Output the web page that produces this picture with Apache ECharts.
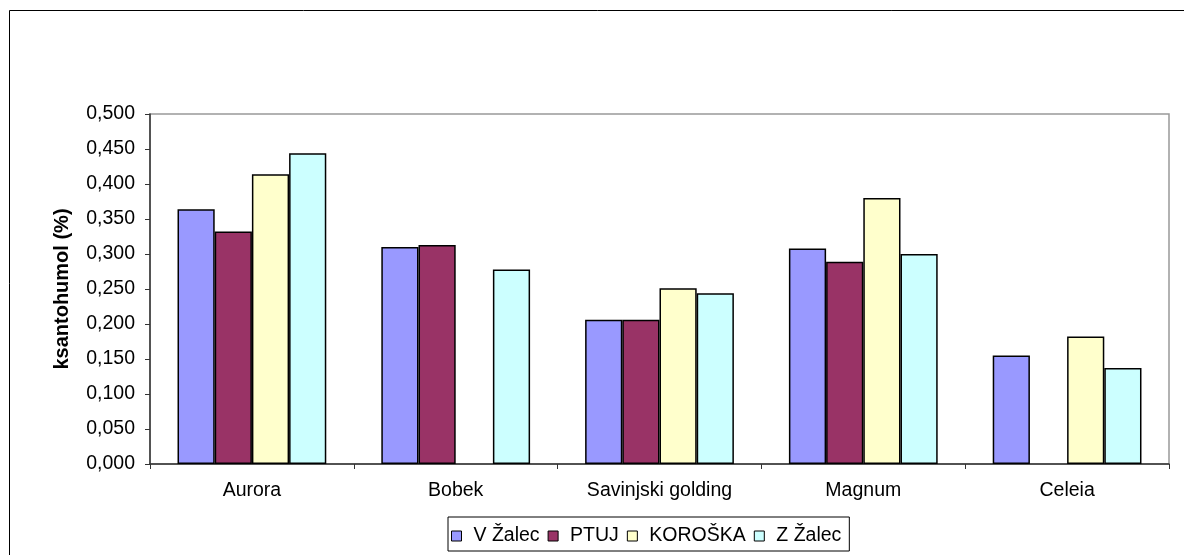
<!DOCTYPE html>
<html>
<head>
<meta charset="utf-8">
<script src="https://cdn.jsdelivr.net/npm/echarts@6/dist/echarts.min.js"></script>
<style>
html,body{margin:0;padding:0;background:#fff;}
#c{width:1184px;height:555px;}
</style>
</head>
<body>
<div id="c"></div>
<script>
const categories = ['Aurora', 'Bobek', 'Savinjski golding', 'Magnum', 'Celeia'];
const seriesNames = ['V Žalec', 'PTUJ', 'KOROŠKA', 'Z Žalec'];
const vZalec = [0.364, 0.310, 0.206, 0.308, 0.155];
const ptuj = [0.332, 0.313, 0.206, 0.289, null];
const koroska = [0.414, null, 0.251, 0.380, 0.182];
const zZalec = [0.444, 0.278, 0.244, 0.300, 0.137];
const colors = ['#9999FF', '#993366', '#FFFFCC', '#CCFFFF'];
const yTicks = { min: 0, max: 0.5, interval: 0.05 };

const allValues = [vZalec, ptuj, koroska, zZalec];
const chart = echarts.init(document.getElementById('c'));
const font = 'Liberation Sans, Arial, sans-serif';

chart.setOption({
  animation: false,
  backgroundColor: '#fff',
  graphic: [{
    type: 'rect',
    shape: { x: 9.5, y: 10.5, width: 1190, height: 600 },
    style: { fill: 'none', stroke: '#000', lineWidth: 1 },
    silent: true
  }],
  grid: {
    left: 150, right: 15, top: 114, bottom: 91,
    show: true, borderColor: '#999', borderWidth: 1.5, backgroundColor: 'transparent'
  },
  legend: {
    data: seriesNames,
    left: 448, top: 517,
    width: 420,
    padding: [9, 8, 5, 3],
    itemWidth: 10, itemHeight: 10, itemGap: 8,
    borderColor: '#000', borderWidth: 1,
    icon: 'rect',
    itemStyle: { borderColor: '#000', borderWidth: 1 },
    textStyle: { fontFamily: font, fontSize: 19.5, color: '#000', padding: [0, 0, 0, 7] }
  },
  xAxis: {
    type: 'category',
    data: categories,
    axisLine: { lineStyle: { color: '#333', width: 1.5 } },
    axisTick: { show: true, length: 5, lineStyle: { color: '#333' } },
    axisLabel: { fontFamily: font, fontSize: 19.5, color: '#000', margin: 17 }
  },
  yAxis: {
    type: 'value',
    min: yTicks.min, max: yTicks.max, interval: yTicks.interval,
    name: 'ksantohumol (%)',
    nameLocation: 'middle',
    nameGap: 78,
    nameTextStyle: { fontFamily: font, fontSize: 20, fontWeight: 'bold', color: '#000' },
    axisLine: { show: true, lineStyle: { color: '#333', width: 1.5 } },
    axisTick: { show: true, length: 5, lineStyle: { color: '#333' } },
    splitLine: { show: false },
    axisLabel: {
      fontFamily: font, fontSize: 19.5, color: '#000', margin: 15,
      formatter: v => v.toFixed(3).replace('.', ',')
    }
  },
  series: seriesNames.map((n, i) => ({
    name: n,
    type: 'bar',
    data: allValues[i],
    barGap: '0%',
    barCategoryGap: '27%',
    itemStyle: { color: colors[i], borderColor: '#000', borderWidth: 1.5 }
  }))
});
</script>
</body>
</html>
